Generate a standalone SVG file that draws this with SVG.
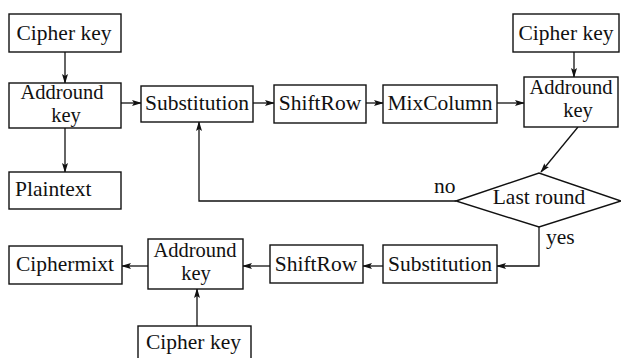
<svg xmlns="http://www.w3.org/2000/svg" width="621" height="358" viewBox="0 0 621 358">
  <style>
    .box { fill: #ffffff; stroke: #111111; stroke-width: 1.4; }
    .lbl { font-family: "Liberation Serif", "Times New Roman", serif; font-size: 21.5px; fill: #111111; }
    .two { font-size: 20.5px; }
    .mid { text-anchor: middle; }
    .wire { fill: none; stroke: #111111; stroke-width: 1.3; }
    .arr { marker-end: url(#head); }
  </style>
  <defs>
    <marker id="head" markerUnits="userSpaceOnUse" markerWidth="10" markerHeight="6" refX="9" refY="3" orient="auto">
      <path d="M0,0 L10,3 L0,6 L2,3 z" fill="#111111"/>
    </marker>
  </defs>
  <rect width="621" height="358" fill="#ffffff"/>

  <!-- connectors -->
  <g id="connectors">
    <line class="wire arr" x1="65" y1="52" x2="65" y2="83"/>
    <line class="wire arr" x1="65" y1="128" x2="65" y2="172"/>
    <line class="wire arr" x1="121" y1="103" x2="141" y2="103"/>
    <line class="wire arr" x1="253" y1="103" x2="274" y2="103"/>
    <line class="wire arr" x1="366" y1="103" x2="383" y2="103"/>
    <line class="wire arr" x1="497" y1="103" x2="524" y2="103"/>
    <line class="wire arr" x1="574" y1="52" x2="574" y2="77"/>
    <line class="wire arr" x1="578" y1="127" x2="541" y2="172"/>
    <polyline class="wire arr" points="456,201 199,201 199,122"/>
    <polyline class="wire arr" points="539,227 539,266 497,266"/>
    <line class="wire arr" x1="383" y1="266" x2="363" y2="266"/>
    <line class="wire arr" x1="270" y1="266" x2="243" y2="266"/>
    <line class="wire arr" x1="148" y1="266" x2="122" y2="266"/>
    <line class="wire arr" x1="197" y1="326" x2="197" y2="289"/>
    <text class="lbl" x="434" y="193">no</text>
    <text class="lbl" x="546" y="244">yes</text>
  </g>

  <!-- key schedule and round stages -->
  <g id="cipher-key-1">
    <rect class="box" x="9" y="14" width="112" height="38"/>
    <text class="lbl mid" x="64" y="40">Cipher key</text>
  </g>
  <g id="addround-key-1">
    <rect class="box" x="9" y="83" width="112" height="45"/>
    <text class="lbl two mid" x="62" y="98.5">Addround</text>
    <text class="lbl two mid" x="66" y="121.5">key</text>
  </g>
  <g id="plaintext">
    <rect class="box" x="9" y="172" width="112" height="37"/>
    <text class="lbl" x="15" y="196">Plaintext</text>
  </g>
  <g id="substitution-1">
    <rect class="box" x="141" y="86" width="112" height="36"/>
    <text class="lbl mid" x="197" y="110">Substitution</text>
  </g>
  <g id="shiftrow-1">
    <rect class="box" x="274" y="85" width="92" height="38"/>
    <text class="lbl mid" x="320" y="110">ShiftRow</text>
  </g>
  <g id="mixcolumn">
    <rect class="box" x="383" y="85" width="114" height="38"/>
    <text class="lbl mid" x="440" y="110">MixColumn</text>
  </g>
  <g id="cipher-key-2">
    <rect class="box" x="513" y="14" width="106" height="38"/>
    <text class="lbl mid" x="566" y="40">Cipher key</text>
  </g>
  <g id="addround-key-2">
    <rect class="box" x="524" y="77" width="94" height="50"/>
    <text class="lbl two mid" x="571" y="94">Addround</text>
    <text class="lbl two mid" x="578" y="117">key</text>
  </g>
  <g id="last-round">
    <polygon class="box" points="456,201 539,173 621,201 539,227"/>
    <text class="lbl mid" x="539" y="204">Last round</text>
  </g>
  <g id="substitution-2">
    <rect class="box" x="383" y="245" width="114" height="38"/>
    <text class="lbl mid" x="440" y="271">Substitution</text>
  </g>
  <g id="shiftrow-2">
    <rect class="box" x="270" y="245" width="93" height="38"/>
    <text class="lbl mid" x="316" y="271">ShiftRow</text>
  </g>
  <g id="addround-key-3">
    <rect class="box" x="148" y="239" width="95" height="50"/>
    <text class="lbl two mid" x="195" y="257">Addround</text>
    <text class="lbl two mid" x="196" y="280">key</text>
  </g>
  <g id="ciphermixt">
    <rect class="box" x="9" y="246" width="113" height="38"/>
    <text class="lbl" x="16" y="271">Ciphermixt</text>
  </g>
  <g id="cipher-key-3">
    <rect class="box" x="138" y="326" width="113" height="36"/>
    <text class="lbl" x="146" y="349">Cipher key</text>
  </g>
</svg>
